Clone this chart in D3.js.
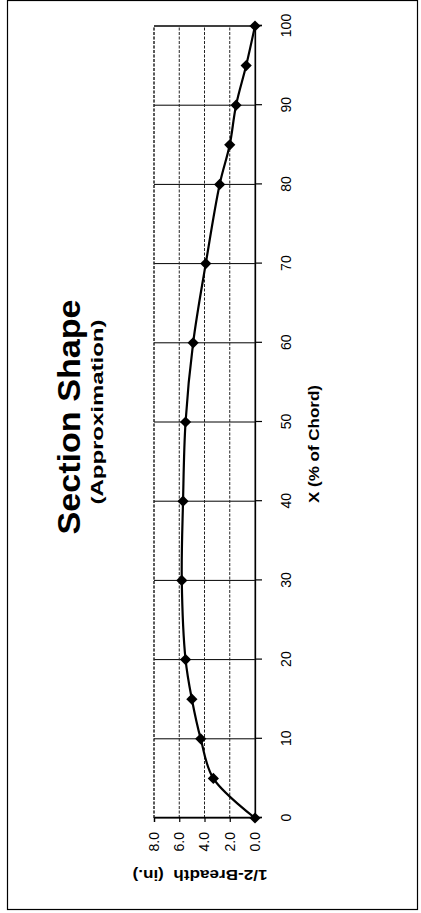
<!DOCTYPE html>
<html>
<head>
<meta charset="utf-8">
<script src="https://cdn.jsdelivr.net/npm/d3@7/dist/d3.min.js"></script>
<style>
  html, body { margin: 0; padding: 0; background: #fff; }
  svg { display: block; }
  text { font-family: "Liberation Sans", Arial, Helvetica, sans-serif; fill: #000; }
</style>
</head>
<body>
<svg id="chart" width="421" height="913"></svg>
<script>
// ---- data ----
const chordPct = [0, 5, 10, 15, 20, 30, 40, 50, 60, 70, 80, 85, 90, 95, 100];
const halfBreadth = [0.0, 3.3, 4.3, 5.0, 5.5, 5.8, 5.7, 5.5, 4.9, 3.9, 2.8, 2.0, 1.5, 0.7, 0.0];
const xTicks = [0, 10, 20, 30, 40, 50, 60, 70, 80, 90, 100];
const yTicks = [0, 2, 4, 6, 8];
const titleText = "Section Shape";
const subtitleText = "(Approximation)";
const xTitle = "X (% of Chord)";
const yTitle = "1/2-Breadth  (in.)";

// ---- layout: chart drawn in landscape, then rotated -90deg onto the page ----
const W = 913, H = 421;
const svg = d3.select("#chart");
const g = svg.append("g").attr("transform", `translate(0,${W}) rotate(-90)`);

// outer border
g.append("rect")
  .attr("x", 3.5).attr("y", 7.5)
  .attr("width", W - 4).attr("height", H - 11)
  .attr("fill", "none").attr("stroke", "#000").attr("stroke-width", 1.2);

const plot = { left: 95, right: 887, top: 154, bottom: 255 };
const x = d3.scaleLinear().domain([0, 100]).range([plot.left, plot.right]);
const y = d3.scaleLinear().domain([0, 8]).range([plot.bottom, plot.top]);

// gridlines
g.append("g").selectAll("line").data(xTicks).join("line")
  .attr("x1", d => x(d)).attr("x2", d => x(d))
  .attr("y1", plot.top).attr("y2", plot.bottom)
  .attr("stroke", "#000").attr("stroke-width", 1);
g.append("g").selectAll("line").data(yTicks).join("line")
  .attr("x1", plot.left).attr("x2", plot.right)
  .attr("y1", d => y(d)).attr("y2", d => y(d))
  .attr("stroke", "#222").attr("stroke-width", 1)
  .attr("stroke-dasharray", d => (d === 0 ? null : "3,1.5"));

// axes
const xAxis = g.append("g").attr("transform", `translate(0,${plot.bottom})`)
  .call(d3.axisBottom(x).tickValues(xTicks).tickSize(7).tickPadding(19).tickFormat(d3.format("d")));
const yAxis = g.append("g").attr("transform", `translate(${plot.left},0)`)
  .call(d3.axisLeft(y).tickValues(yTicks).tickSize(4).tickPadding(10).tickFormat(d3.format(".1f")));
[xAxis, yAxis].forEach(a => {
  a.select(".domain").attr("stroke", "#000").attr("stroke-width", 1.3);
  a.selectAll(".tick line").attr("stroke", "#000").attr("stroke-width", 1.2);
  a.selectAll(".tick text").attr("font-size", 14).attr("font-family", '"Liberation Sans", Arial, sans-serif');
});
// plot-area box top/right edges
g.append("line").attr("x1", plot.left).attr("x2", plot.right).attr("y1", plot.top).attr("y2", plot.top)
  .attr("stroke", "#222").attr("stroke-width", 1).attr("stroke-dasharray", "3,1.5");
g.append("line").attr("x1", plot.right).attr("x2", plot.right).attr("y1", plot.top).attr("y2", plot.bottom)
  .attr("stroke", "#000").attr("stroke-width", 1);

// series line (smoothed) and markers
const pts = chordPct.map((c, i) => [c, halfBreadth[i]]);
g.append("path").datum(pts)
  .attr("fill", "none").attr("stroke", "#000").attr("stroke-width", 2.2)
  .attr("d", d3.line().x(d => x(d[0])).y(d => y(d[1])).curve(d3.curveCatmullRom.alpha(0.5)));
g.append("g").selectAll("path").data(pts).join("path")
  .attr("transform", d => `translate(${x(d[0])},${y(d[1])})`)
  .attr("d", d3.symbol().type(d3.symbolDiamond2).size(80))
  .attr("fill", "#000");

// titles
g.append("text").attr("x", 496).attr("y", 80).attr("text-anchor", "middle")
  .attr("font-size", 32).attr("font-weight", "bold")
  .attr("textLength", 235).attr("lengthAdjust", "spacingAndGlyphs").text(titleText);
g.append("text").attr("x", 501).attr("y", 103).attr("text-anchor", "middle")
  .attr("font-size", 17).attr("font-weight", "bold")
  .attr("textLength", 185).attr("lengthAdjust", "spacingAndGlyphs").text(subtitleText);
g.append("text").attr("x", 469).attr("y", 319).attr("text-anchor", "middle")
  .attr("font-size", 15).attr("font-weight", "bold")
  .attr("textLength", 118).attr("lengthAdjust", "spacingAndGlyphs").text(xTitle);
g.append("text").attr("transform", `translate(${38},${200}) rotate(-90)`)
  .attr("text-anchor", "middle").attr("dy", "0.35em")
  .attr("font-size", 14).attr("font-weight", "bold").style("white-space", "pre")
  .attr("textLength", 135).attr("lengthAdjust", "spacingAndGlyphs").text(yTitle);
</script>
</body>
</html>
